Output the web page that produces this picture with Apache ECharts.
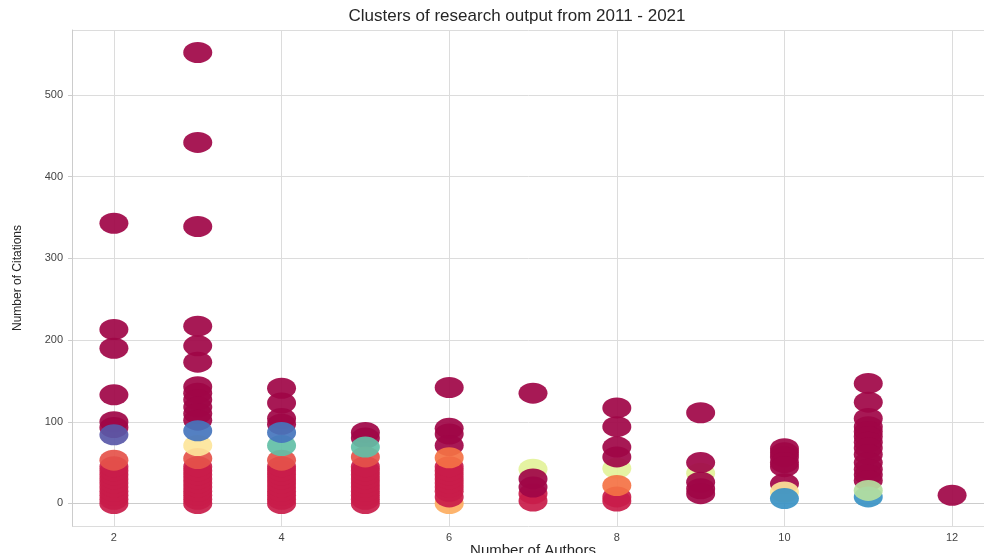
<!DOCTYPE html>
<html>
<head>
<meta charset="utf-8">
<script src="https://cdn.jsdelivr.net/npm/echarts@6/dist/echarts.min.js"></script>
<style>html,body{margin:0;padding:0;background:#fff;}#c{width:984px;height:553px;}</style>
</head>
<body>
<div id="c"></div>
<script>
// Data: [number of authors, number of citations] per cluster
const lightOrangePts = [[6,0]];
const crimsonPts = [
  [2,0],[2,5],[2,10],[2,15],[2,20],[2,25],[2,30],[2,35],[2,40],[2,45],
  [3,0],[3,5],[3,10],[3,15],[3,20],[3,25],[3,30],[3,35],[3,40],[3,45],
  [4,0],[4,5],[4,10],[4,15],[4,20],[4,25],[4,30],[4,35],[4,40],[4,45],
  [5,0],[5,5],[5,10],[5,15],[5,20],[5,25],[5,30],[5,35],[5,40],[5,45],
  [6,8],[6,15],[6,20],[6,25],[6,30],[6,35],[6,40],[6,45],
  [7,3],[7,12],[8,3],[8,8]
];
const yellowGreenPts = [[7,42],[8,43],[9,37]];
const darkPts = [
  [2,343],[2,213],[2,190],[2,133],[2,100],[2,93],
  [3,552],[3,442],[3,339],[3,217],[3,193],[3,173],[3,143],[3,135],[3,127],[3,118],[3,110],[3,102],
  [4,141],[4,123],[4,104],[4,97],
  [5,87],[5,80],
  [6,142],[6,92],[6,85],[6,71],
  [7,135],[7,30],[7,20],
  [8,117],[8,94],[8,69],[8,57],
  [9,111],[9,50],[9,26],[9,18],[9,12],
  [10,67],[10,62],[10,57],[10,50],[10,45],[10,24],
  [11,147],[11,124],[11,104],[11,94],[11,88],[11,82],[11,75],[11,68],[11,60],[11,50],[11,42],[11,35],[11,28],
  [12,10]
];
const orangeRedPts = [[2,53],[3,55],[4,53],[5,57]];
const orangePts = [[6,56],[8,22]];
const paleYellowPts = [[3,71],[10,14]];
const tealPts = [[4,71],[5,69]];
const purplePts = [[2,84]];
const bluePts = [[3,89],[4,87]];
const cyanBluePts = [[10,6],[11,8]];
const lightGreenPts = [[11,16]];

const clusters = [
  {name:'c4', data: lightOrangePts, color:'#fdae61'},
  {name:'c1', data: crimsonPts, color:'#c91c4a'},
  {name:'c6', data: yellowGreenPts, color:'#e3f29a'},
  {name:'c0', data: darkPts, color:'#a00546'},
  {name:'c2', data: orangeRedPts, color:'#e5524a'},
  {name:'c3', data: orangePts, color:'#f47244'},
  {name:'c5', data: paleYellowPts, color:'#fde59a'},
  {name:'c8', data: tealPts, color:'#62bfa6'},
  {name:'c10', data: purplePts, color:'#5958a8'},
  {name:'c9', data: bluePts, color:'#4575bd'},
  {name:'c11', data: cyanBluePts, color:'#3a92c4'},
  {name:'c7', data: lightGreenPts, color:'#b5df9f'}
];

const chart = echarts.init(document.getElementById('c'), null, {renderer:'canvas'});
const font = 'Liberation Sans, Arial, sans-serif';
chart.setOption({
  animation:false,
  backgroundColor:'#ffffff',
  title:{
    text:'Clusters of research output from 2011 - 2021',
    left:512, top:3, textAlign:'center',
    textStyle:{fontFamily:font, fontSize:17, fontWeight:'normal', color:'#262626'}
  },
  grid:{left:72, top:30, width:922, height:496, containLabel:false, outerBoundsMode:'none'},
  xAxis:{
    type:'value', min:1.5, max:12.5, splitNumber:5,
    name:'Number of Authors', nameLocation:'middle', nameGap:17, nameMoveOverlap:false,
    nameTextStyle:{fontFamily:font, fontSize:15, color:'#262626'},
    axisLine:{show:true, lineStyle:{color:'#cccccc', width:1}},
    axisTick:{show:true, length:4, lineStyle:{color:'#cccccc'}},
    axisLabel:{showMinLabel:false, showMaxLabel:false, fontFamily:font, fontSize:11, color:'#444', margin:6},
    splitLine:{show:true, lineStyle:{color:'#dcdcdc', width:1}}
  },
  yAxis:{
    type:'value', min:-27.6, max:579.6, splitNumber:5,
    name:'Number of Citations', nameLocation:'middle', nameGap:48, nameRotate:90, nameMoveOverlap:false,
    nameTextStyle:{fontFamily:font, fontSize:12, color:'#262626'},
    axisLine:{show:true, lineStyle:{color:'#cccccc', width:1}},
    axisTick:{show:true, length:4, lineStyle:{color:'#cccccc'}},
    axisLabel:{showMinLabel:false, showMaxLabel:false, fontFamily:font, fontSize:11, color:'#444', margin:9},
    splitLine:{show:true, lineStyle:{color:'#dcdcdc', width:1}}
  },
  series: clusters.map(c => ({
    name:c.name, type:'scatter', data:c.data,
    symbol:'circle', symbolSize:[29,21],
    itemStyle:{color:c.color, opacity:0.92},
    emphasis:{disabled:true}
  }))
});
</script>
</body>
</html>
